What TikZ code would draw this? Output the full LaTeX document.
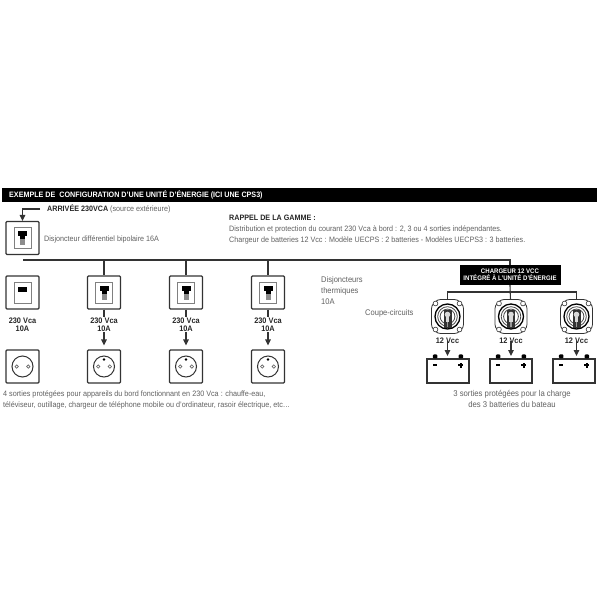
\documentclass[tikz,border=0pt]{standalone}
\usepackage{fontspec}
\setmainfont{Liberation Sans}[FakeStretch=0.92]
\usepackage{tikz}
\usetikzlibrary{arrows.meta,calc}
\definecolor{textgray}{gray}{0.38}
\definecolor{linegray}{gray}{0.2}
\tikzset{
  boxnode/.style={draw=linegray,line width=1.1pt,rounded corners=1pt,minimum width=33pt,minimum height=33pt,inner sep=0pt},
  wire/.style={draw=linegray,line width=1.1pt},
  arrowwire/.style={wire,-{Triangle[length=6pt,width=5.5pt]}},
  graytext/.style={text=textgray,font=\fontsize{7.8}{11}\selectfont,inner sep=0pt,anchor=west,align=left},
  boldtext/.style={text=black!85,font=\fontsize{8}{7.7}\selectfont\bfseries,inner sep=0pt,align=center},
  battery/.style={draw=linegray,line width=1.1pt,minimum width=42pt,minimum height=24pt,inner sep=0pt},
}
% interrupteur vu de face
\newcommand{\breakerup}[1]{
  \draw[black!50,line width=0.8pt,fill=white] ($(#1)+(-8.5,-10.5)$) rectangle ($(#1)+(8.5,10.5)$);
  \fill[black!45] ($(#1)+(-2.5,1)$) rectangle ($(#1)+(2.5,7)$);
  \fill[black] ($(#1)+(-4.5,-7)$) rectangle ($(#1)+(4.5,-2)$);
  \fill[black] ($(#1)+(-2.5,-2)$) rectangle ($(#1)+(2.5,1)$);
}
% prise de courant
\newcommand{\socket}[1]{
  \draw[linegray,line width=1pt] (#1) circle (10.5pt);
  \draw[black!60,line width=0.7pt] ($(#1)+(-5.8,0)$) circle (1.7pt);
  \draw[black!60,line width=0.7pt] ($(#1)+(5.8,0)$) circle (1.7pt);
}
% coupe-circuit
\newcommand{\cutter}[1]{
  \draw[linegray,line width=0.8pt,fill=white,rounded corners=3pt] ($(#1)+(-10,-17)$) -- ($(#1)+(10,-17)$) -- ($(#1)+(16,-11)$) -- ($(#1)+(16,11)$) -- ($(#1)+(10,17)$) -- ($(#1)+(-10,17)$) -- ($(#1)+(-16,11)$) -- ($(#1)+(-16,-11)$) -- cycle;
  \foreach \sx/\sy in {-12/-13,12/-13,-12/13,12/13}
    \draw[linegray,line width=0.6pt,fill=white] ($(#1)+(\sx,\sy)$) circle (2.4pt);
  \draw[black,line width=1.3pt] (#1) circle (12.5pt);
  \draw[black!70,line width=0.8pt] (#1) circle (9.8pt);
  \draw[black!70,line width=0.8pt] (#1) circle (7.4pt);
  \fill[black!80] ($(#1)+(-4,-7)$) rectangle ($(#1)+(4,11)$);
  \fill[black!15] ($(#1)+(0,-2)$) circle (2.8pt);
  \fill[black!15] ($(#1)+(-1.8,-2)$) rectangle ($(#1)+(1.8,5)$);
  \fill[black!40] ($(#1)+(-0.8,5)$) rectangle ($(#1)+(0.8,10)$);
}
\begin{document}
\begin{tikzpicture}[x=1pt,y=-1pt]
  \useasboundingbox[fill=white] (0,0) rectangle (600,600);

  % bandeau du titre
  \node[fill=black,minimum width=595pt,minimum height=14pt,inner sep=0pt] (band) at (299.5,194.5) {};
  \node[text=white,font=\fontsize{7.8}{8}\selectfont\bfseries,anchor=west,inner sep=0pt] (title) at (9,194.5) {EXEMPLE DE\ \ CONFIGURATION D’UNE UNITÉ D’ÉNERGIE (ICI UNE CPS3)};

  % arrivee
  \node[boxnode] (source) at (22.5,238) {};
  \breakerup{22.5,238}
  \coordinate (sourcein) at (40,209);
  \draw[arrowwire] (sourcein) -| (source.north);
  \node[inner sep=0pt,anchor=west] (arrivee) at (47,209) {\fontsize{7.8}{8}\selectfont\bfseries\color{black!85}ARRIVÉE 230VCA \color{textgray}\fontsize{7.8}{8}\mdseries(source extérieure)};
  \node[graytext] (disj) at (44,239) {Disjoncteur différentiel bipolaire 16A};

  % rappel
  \node[boldtext,anchor=west,font=\fontsize{7.8}{8}\selectfont\bfseries] (rappel) at (229,218) {RAPPEL DE LA GAMME :};
  \node[graytext] (rappela) at (229,229.5) {Distribution et protection du courant 230 Vca à bord : 2, 3 ou 4 sorties indépendantes.};
  \node[graytext] (rappelb) at (229,240.5) {Chargeur de batteries 12 Vcc : Modèle UECPS : 2 batteries - Modèles UECPS3 : 3 batteries.};

  % bus 230 V
  \coordinate (busstart) at (23,260);
  \coordinate (busend) at (510,260);

  % chargeur
  \node[fill=black,text=white,font=\fontsize{6.6}{7.4}\selectfont\bfseries,align=center,minimum width=101pt,minimum height=20pt,inner sep=0pt] (charger) at (510,275) {CHARGEUR 12 VCC\\INTÉGRÉ À L’UNITÉ D’ÉNERGIE};
  \draw[wire] (busstart) -- (busend) -- (charger.north);

  % disjoncteur sans liaison
  \node[boxnode] (brk1) at (22.5,292.5) {};
  \draw[black!50,line width=0.8pt] (14,282) rectangle (31,303);
  \fill[black] (18,287) rectangle (27,292);
  \node[boldtext] (volt1) at (22.5,324.5) {230 Vca\\10A};
  \node[boxnode] (sock1) at (22.5,366.5) {};
  \socket{22.5,366.5}

  % trois sorties 230 V
  \foreach \i/\xx in {2/104,3/186,4/268}{
    \node[boxnode] (brk\i) at (\xx,292.5) {};
    \breakerup{\xx,292.5}
    \node[boldtext,inner ysep=0.5pt] (volt\i) at (\xx,324.5) {230 Vca\\10A};
    \node[boxnode] (sock\i) at (\xx,366.5) {};
    \socket{\xx,366.5}
    \fill[black] (\xx,359.5) circle (1.4pt);
    \draw[wire] (\xx,260) -- (brk\i.north);
    \draw[wire] (brk\i.south) -- (volt\i.north);
    \draw[arrowwire] (volt\i.south) -- ($(sock\i.north)+(0,-4)$);
  }

  \node[graytext,font=\fontsize{8.2}{11}\selectfont] (therm) at (321,291) {Disjoncteurs\\thermiques\\10A};
  \node[graytext,font=\fontsize{8.2}{11}\selectfont] (coupe) at (365,313) {Coupe-circuits};

  \node[graytext,font=\fontsize{7.85}{11.7}\selectfont] (sorties) at (3,400) {4 sorties protégées pour appareils du bord fonctionnant en 230 Vca : chauffe-eau,\\téléviseur, outillage, chargeur de téléphone mobile ou d’ordinateur, rasoir électrique, etc…};

  % trois sorties 12 V
  \draw[wire] (447.5,300) |- (576.5,292) -- (576.5,300);
  \draw[wire] (charger.south) -- (510.5,300);
  \foreach \i/\xx/\bx in {1/447.5/448,2/511/511,3/576.5/574}{
    \cutter{\xx,316.5}
    \node[boldtext,inner ysep=0pt] (vcc\i) at (\xx,341) {12 Vcc};
    \node[battery] (bat\i) at (\bx,371) {};
    \draw[arrowwire] (vcc\i.center) -- (\xx,356);
    \fill[black,rounded corners=1pt] ($(bat\i.north west)+(6.5,-4)$) rectangle ($(bat\i.north west)+(11,0)$);
    \fill[black,rounded corners=1pt] ($(bat\i.north east)+(-11,-4)$) rectangle ($(bat\i.north east)+(-6.5,0)$);
    \fill[black] ($(bat\i.north west)+(6.5,6)$) rectangle ($(bat\i.north west)+(10.5,8)$);
    \fill[black] ($(bat\i.north east)+(-11.5,6)$) rectangle ($(bat\i.north east)+(-6.5,8)$);
    \fill[black] ($(bat\i.north east)+(-10,4.5)$) rectangle ($(bat\i.north east)+(-8,9.5)$);
  }
  \node[graytext,anchor=center,align=center,font=\fontsize{8.4}{11.5}\selectfont] (sortiesb) at (512,399) {3 sorties protégées pour la charge\\des 3 batteries du bateau};
\end{tikzpicture}
\end{document}
